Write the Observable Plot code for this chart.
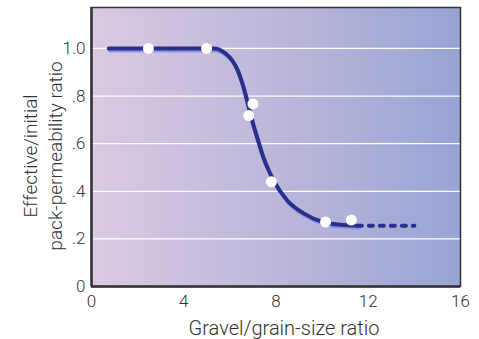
<!DOCTYPE html>
<html><head><meta charset="utf-8">
<script src="https://cdn.jsdelivr.net/npm/d3@7"></script>
<script src="https://cdn.jsdelivr.net/npm/@observablehq/plot@0.6"></script>
<style>body{margin:0;background:#fff}</style>
</head><body><div id="chart"></div>
<script>
// tick values and labels
const xTicks = [0, 4, 8, 12, 16];
const yTicks = [0, 0.2, 0.4, 0.6, 0.8, 1.0];
const yTickLabels = ["0", ".2", ".4", ".6", ".8", "1.0"];
const gridY = [0.2, 0.4, 0.6, 0.8, 1.0];

// measured points (gravel/grain-size ratio, effective/initial permeability ratio)
const pointX = [2.47, 4.99, 7.0, 6.82, 7.8, 10.15, 11.27];
const pointY = [1.0, 1.0, 0.767, 0.718, 0.44, 0.271, 0.279];

// fitted curve
const curveX = [0.75, 5.3, 5.8, 6.1, 6.33, 6.55, 6.81, 7.0, 7.2, 7.46, 7.9, 8.5, 9.2, 10.06, 10.8, 11.55];
const curveY = [1.0, 1.0, 0.98, 0.95, 0.91, 0.85, 0.755, 0.685, 0.62, 0.54, 0.445, 0.36, 0.307, 0.27, 0.259, 0.255];

// dotted extrapolation
const dotX = [11.55, 14.0];
const dotY = [0.255, 0.255];

const xLabel = "Gravel/grain-size ratio";
const yLabel = "Effective/initial\npack-permeability ratio";

const curve = curveX.map((x, i) => ({x, y: curveY[i]}));
const dots = dotX.map((x, i) => ({x, y: dotY[i]}));
const points = pointX.map((x, i) => ({x, y: pointY[i]}));

const defs = () => {
  const d = d3.create("svg:defs");
  const g = d.append("linearGradient").attr("id", "bg").attr("x1", "0").attr("x2", "1").attr("y1", "0").attr("y2", "0");
  g.append("stop").attr("offset", "0%").attr("stop-color", "#dbc9e2");
  g.append("stop").attr("offset", "50%").attr("stop-color", "#bcb7da");
  g.append("stop").attr("offset", "100%").attr("stop-color", "#97a4d4");
  return d.node();
};

const chart = Plot.plot({
  width: 479,
  height: 339,
  marginLeft: 91,
  marginRight: 19,
  marginTop: 7,
  marginBottom: 53,
  style: {fontFamily: "Roboto, 'Liberation Sans', sans-serif", fontWeight: 300, fontSize: "17px", color: "#333", background: "#fff"},
  x: {domain: [0, 16]},
  y: {domain: [0, 1.172]},
  marks: [
    defs,
    Plot.frame({fill: "url(#bg)"}),
    Plot.ruleY(gridY, {stroke: "#fff", strokeWidth: 1.2}),
    Plot.line(curve, {x: "x", y: "y", curve: "monotone-x", stroke: "#8c95da", strokeWidth: 4, dx: 1, dy: 2}),
    Plot.line(curve, {x: "x", y: "y", curve: "monotone-x", stroke: "#2a2f8e", strokeWidth: 4}),
    Plot.line(dots, {x: "x", y: "y", stroke: "#2a2f8e", strokeWidth: 4, strokeDasharray: "4,7"}),
    Plot.dot(points, {x: "x", y: "y", r: 5.5, fill: "#fff", stroke: "none"}),
    Plot.frame({stroke: "#333", strokeWidth: 1.5}),
    Plot.ruleX([0], {stroke: "#333", strokeWidth: 2.5}),
    Plot.ruleY([0], {stroke: "#333", strokeWidth: 2.5}),
    Plot.axisX({ticks: xTicks, tickSize: 0, tickPadding: 8, label: null, fontSize: 17}),
    Plot.axisY({ticks: yTicks, tickFormat: d => yTickLabels[yTicks.indexOf(d)], tickSize: 0, tickPadding: 6, label: null, fontSize: 17}),
    Plot.text([xLabel], {frameAnchor: "bottom", dx: 8, dy: 48, fontSize: 20, fill: "#333", lineAnchor: "bottom"}),
    Plot.text([yLabel], {frameAnchor: "left", textAnchor: "middle", rotate: -90, dx: -50, dy: 9, fontSize: 19, lineHeight: 1.3, fill: "#333"})
  ]
});
document.getElementById("chart").append(chart);
</script>
</body></html>
